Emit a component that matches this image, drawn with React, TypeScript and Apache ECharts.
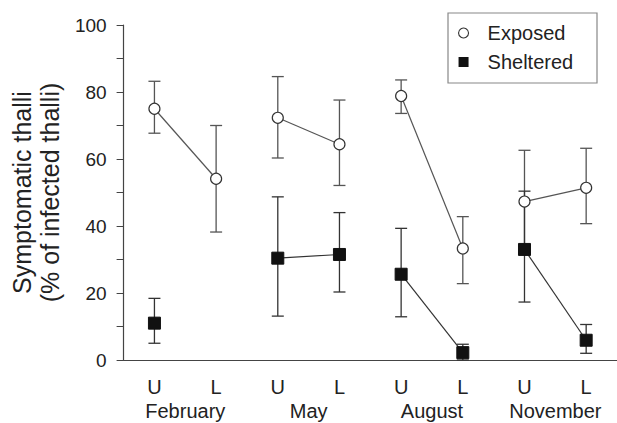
import React, { useEffect, useRef } from "react";
import * as echarts from "echarts";

const categories = ["U", "L", "U", "L", "U", "L", "U", "L"];
const months = ["February", "May", "August", "November"];
const yTicks = [0, 20, 40, 60, 80, 100];

const exposedMean = [75.0, 54.1, 72.3, 64.4, 78.8, 33.3, 47.3, 51.4];
const exposedLow = [67.7, 38.2, 60.3, 52.1, 73.6, 22.8, 32.0, 40.7];
const exposedHigh = [83.2, 70.0, 84.6, 77.6, 83.6, 42.8, 62.6, 63.2];

const shelteredMean: (number | null)[] = [11.0, null, 30.4, 31.5, 25.6, 2.2, 33.0, 5.9];
const shelteredLow: (number | null)[] = [5.0, null, 13.1, 20.3, 12.9, 0.0, 17.3, 2.0];
const shelteredHigh: (number | null)[] = [18.4, null, 48.7, 44.0, 39.3, 4.7, 50.4, 10.6];

const FONT = "Liberation Sans, Arial, Helvetica, sans-serif";

function monthSeries(name: string, mean: (number | null)[], symbol: string, symbolSize: number, itemStyle: any, lineColor: string) {
  return months.map((_, m) => ({
    name,
    type: "line",
    xAxisIndex: 0,
    yAxisIndex: 0,
    symbol,
    symbolSize,
    showSymbol: true,
    showAllSymbol: true,
    z: 5,
    lineStyle: { color: lineColor, width: 1.2 },
    itemStyle,
    data: mean.map((v, i) => (Math.floor(i / 2) === m && v !== null ? v : "-")),
  }));
}

function errorSeries(name: string, low: (number | null)[], high: (number | null)[], color: string) {
  const data: number[][] = [];
  low.forEach((l, i) => {
    const h = high[i];
    if (l !== null && h !== null) data.push([i, l, h]);
  });
  return {
    name: name + " error",
    type: "custom",
    xAxisIndex: 0,
    yAxisIndex: 0,
    z: 3,
    silent: true,
    renderItem: (params: any, api: any) => {
      const x = api.value(0);
      const lo = api.coord([x, api.value(1)]);
      const hi = api.coord([x, api.value(2)]);
      const cw = 6;
      const style = { stroke: color, lineWidth: 1.3 };
      return {
        type: "group",
        children: [
          { type: "line", shape: { x1: lo[0], y1: lo[1], x2: hi[0], y2: hi[1] }, style },
          { type: "line", shape: { x1: hi[0] - cw, y1: hi[1], x2: hi[0] + cw, y2: hi[1] }, style },
          { type: "line", shape: { x1: lo[0] - cw, y1: lo[1], x2: lo[0] + cw, y2: lo[1] }, style },
        ],
      };
    },
    data,
  };
}

export default function App() {
  const ref = useRef<HTMLDivElement>(null);
  useEffect(() => {
    if (!ref.current) return;
    const chart = echarts.init(ref.current, null, { renderer: "svg" });
    const option: any = {
      animation: false,
      backgroundColor: "#ffffff",
      textStyle: { fontFamily: FONT },
      grid: { left: 121, right: -4, top: 25, bottom: 63, containLabel: false },
      legend: {
        left: 453,
        top: 18,
        orient: "vertical",
        itemGap: 9,
        itemWidth: 10,
        itemHeight: 10,
        textStyle: { fontSize: 20, color: "#222", fontFamily: FONT, padding: [0, 0, 0, 14] },
        data: [
          { name: "Exposed", icon: "circle", itemStyle: { color: "#ffffff", borderColor: "#333", borderWidth: 1.1 } },
          { name: "Sheltered", icon: "rect", itemStyle: { color: "#111", borderColor: "#111", borderWidth: 0 } },
        ],
      },
      graphic: [
        {
          type: "rect",
          shape: { x: 448, y: 13, width: 149, height: 70 },
          style: { fill: "none", stroke: "#888", lineWidth: 1.2 },
          z: 10,
        },
      ],
      xAxis: [
        {
          type: "category",
          data: categories,
          boundaryGap: true,
          axisLine: { lineStyle: { color: "#444", width: 1.2 } },
          axisTick: { alignWithLabel: true, length: 7, lineStyle: { color: "#444" } },
          axisLabel: { fontSize: 20, color: "#222", margin: 17, fontFamily: FONT },
        },
        {
          type: "category",
          data: months,
          position: "bottom",
          offset: 24,
          boundaryGap: true,
          axisLine: { show: false },
          axisTick: { show: false },
          axisLabel: { fontSize: 20, color: "#222", margin: 17, fontFamily: FONT },
        },
      ],
      yAxis: {
        type: "value",
        min: yTicks[0],
        max: yTicks[yTicks.length - 1],
        interval: 20,
        splitLine: { show: false },
        axisLine: { show: true, lineStyle: { color: "#444", width: 1.2 } },
        axisTick: { show: true, length: 7, lineStyle: { color: "#444" } },
        minorTick: { show: true, splitNumber: 2, length: 7, lineStyle: { color: "#444" } },
        axisLabel: { fontSize: 19, color: "#222", margin: 17, fontFamily: FONT },
        name: "Symptomatic thalli\n(% of infected thalli)",
        nameLocation: "middle",
        nameRotate: 90,
        nameGap: 56,
        nameTextStyle: { fontSize: 25, lineHeight: 28, color: "#222", fontFamily: FONT, align: "center" },
      },
      series: [
        errorSeries("Exposed", exposedLow, exposedHigh, "#555"),
        errorSeries("Sheltered", shelteredLow, shelteredHigh, "#333"),
        ...monthSeries("Exposed", exposedMean, "circle", 11, { color: "#ffffff", borderColor: "#333", borderWidth: 1.2 }, "#555"),
        ...monthSeries("Sheltered", shelteredMean, "rect", 12, { color: "#111", borderColor: "#111" }, "#333"),
      ],
    };
    chart.setOption(option);
    return () => chart.dispose();
  }, []);
  return <div ref={ref} style={{ position: "fixed", left: 0, top: 0, width: 617, height: 423 }} />;
}
